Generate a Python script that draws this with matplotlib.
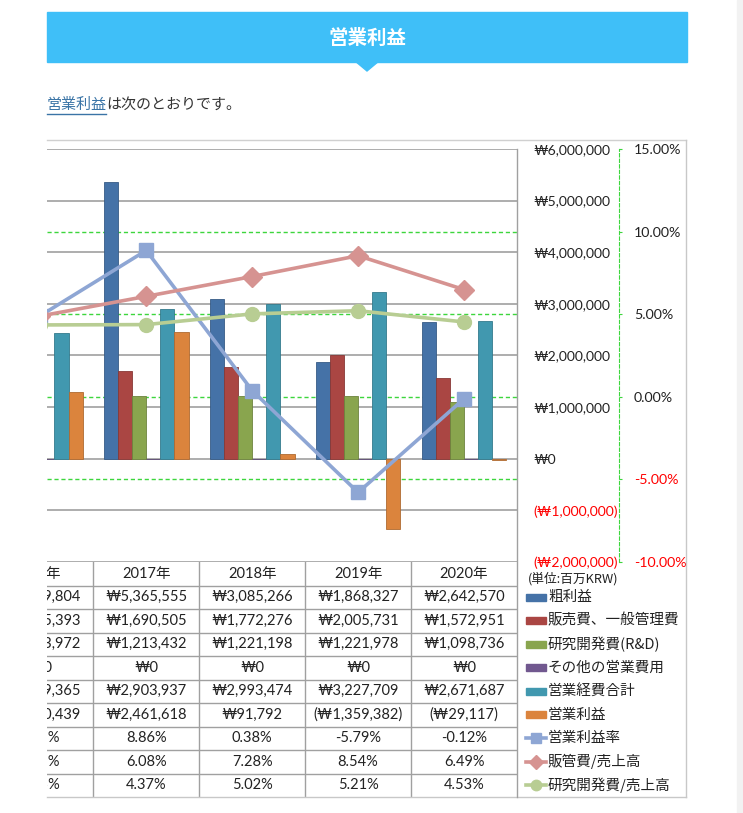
import matplotlib.pyplot as plt
from matplotlib.patches import Rectangle, Polygon
from matplotlib.lines import Line2D
from matplotlib.colors import to_rgb
import numpy as np

plt.rcParams['font.family'] = ['Lato', 'Noto Sans CJK JP', 'DejaVu Sans']

# data (百万KRW)
years = ['2016年', '2017年', '2018年', '2019年', '2020年']
gross_profit = [3719804, 5365555, 3085266, 1868327, 2642570]
sga = [1285393, 1690505, 1772276, 2005731, 1572951]
rnd = [1143972, 1213432, 1221198, 1221978, 1098736]
other_opex = [0, 0, 0, 0, 0]
total_opex = [2429365, 2903937, 2993474, 3227709, 2671687]
op_income = [1290439, 2461618, 91792, -1359382, -29117]
op_margin = [4.91, 8.86, 0.38, -5.79, -0.12]
sga_ratio = [4.89, 6.08, 7.28, 8.54, 6.49]
rnd_ratio = [4.35, 4.37, 5.02, 5.21, 4.53]

bar_names = ['粗利益', '販売費、一般管理費', '研究開発費(R&D)', 'その他の営業費用', '営業経費合計', '営業利益']
line_names = ['営業利益率', '販管費/売上高', '研究開発費/売上高']
won_ticks = [-2000000, -1000000, 0, 1000000, 2000000, 3000000, 4000000, 5000000, 6000000]
pct_ticks = [-10, -5, 0, 5, 10, 15]

bar_colors = ['#4572A7', '#AA4643', '#89A54E', '#71588F', '#4198AF', '#DB843D']
line_colors = ['#8EA6D4', '#D69391', '#B8CD93']
line_markers = ['s', 'D', 'o']
GRID = '#A0A0A0'
GREEN = '#3DD63D'
RED = '#FF0000'


def won(v):
    return '₩{:,.0f}'.format(v) if v >= 0 else '(₩{:,.0f})'.format(-v)


def pct(v):
    return '{:.2f}%'.format(v)


def darker(c, f=0.8):
    return tuple(ch * f for ch in to_rgb(c))


W, H = 743, 813
fig = plt.figure(figsize=(W / 100, H / 100), dpi=100)


def box(x0, y0, x1, y1):
    return [x0 / W, 1 - y1 / H, (x1 - x0) / W, (y1 - y0) / H]


def fx(x):
    return x / W


def fy(y):
    return 1 - y / H


# page header
fig.patches.append(Rectangle((fx(47), fy(62)), 640 / W, 50 / H, transform=fig.transFigure,
                             color='#3FBFF8', zorder=0))
fig.patches.append(Polygon([(fx(355), fy(61)), (fx(379), fy(61)), (fx(367), fy(71))],
                           closed=True, transform=fig.transFigure, color='#3FBFF8', zorder=0))
fig.text(fx(367), fy(38), '営業利益', color='white', fontsize=14, fontweight='bold',
         ha='center', va='center', family=['Noto Sans CJK JP', 'DejaVu Sans'])
fig.patches.append(Rectangle((fx(737), 0), 6 / W, 1, transform=fig.transFigure,
                             color='#F2F2F2', zorder=0))

renderer = fig.canvas.get_renderer()
t1 = fig.text(fx(47), fy(105), '営業利益', color='#3A74A6', fontsize=10.8, va='center',
              family=['Noto Sans CJK JP', 'DejaVu Sans'])
bb = t1.get_window_extent(renderer=renderer)
fig.text((bb.x1 - 1) / W, fy(105), 'は次のとおりです。', color='#333333', fontsize=10.8,
         va='center', family=['Noto Sans CJK JP', 'DejaVu Sans'])
fig.lines.append(Line2D([fx(47), (bb.x1 - 1) / W], [fy(114), fy(114)], transform=fig.transFigure,
                        color='#3A74A6', lw=1))

x = np.arange(len(years))
xlim = (0.0632, 4.5)
plot_box = box(47, 149, 517, 562)

# secondary scale background (green grid + axis)
ax_bg = fig.add_axes(plot_box)
ax_bg.set_xlim(*xlim)
ax_bg.set_ylim(pct_ticks[0], pct_ticks[-1])
ax_bg.set_xticks([])
for s in ['left', 'top', 'bottom']:
    ax_bg.spines[s].set_visible(False)
ax_bg.spines['right'].set_position(('axes', (619 - 47) / 470))
ax_bg.spines['right'].set_linestyle((0, (3, 2)))
ax_bg.spines['right'].set_color(GREEN)
ax_bg.yaxis.tick_right()
ax_bg.set_yticks(pct_ticks, [pct(t) for t in pct_ticks])
ax_bg.tick_params(axis='y', direction='out', length=2.2, color=GREEN, pad=8.5, labelsize=10.2)
for t, lab in zip(pct_ticks, ax_bg.get_yticklabels()):
    lab.set_color(RED if t < 0 else '#222222')
for t in pct_ticks[1:-1]:
    ax_bg.axhline(t, color=GREEN, lw=1, ls=(0, (3, 2)), zorder=0)

# primary axis: bars
ax = fig.add_axes(plot_box)
ax.patch.set_visible(False)
ax.set_xlim(*xlim)
ax.set_ylim(won_ticks[0], won_ticks[-1])
ax.set_xticks([])
for s in ax.spines.values():
    s.set_visible(False)
ax.yaxis.tick_right()
ax.set_yticks(won_ticks, [won(t) for t in won_ticks])
ax.tick_params(axis='y', length=0, pad=11.5, labelsize=10)
for t, lab in zip(won_ticks, ax.get_yticklabels()):
    lab.set_color(RED if t < 0 else '#222222')
ax.yaxis.grid(True, color=GRID, lw=1.2)
ax.set_axisbelow(True)

bar_series = [gross_profit, sga, rnd, other_opex, total_opex, op_income]
bw = 0.8 / len(bar_series)
for i, (vals, c) in enumerate(zip(bar_series, bar_colors)):
    ax.bar(x + (i - 2.5) * bw, vals, width=bw, color=c, edgecolor=darker(c), linewidth=0.6,
           zorder=3)

# secondary axis: lines
ax_ln = fig.add_axes(plot_box)
ax_ln.patch.set_visible(False)
ax_ln.set_xlim(*xlim)
ax_ln.set_ylim(pct_ticks[0], pct_ticks[-1])
ax_ln.axis('off')
line_series = [op_margin, sga_ratio, rnd_ratio]
line_ms = [9.5, 10.5, 10]
for vals, c, m, ms in zip(line_series, line_colors, line_markers, line_ms):
    ax_ln.plot(x, vals, color=c, lw=2.6, marker=m, ms=ms, mec=c, mfc=c)

# data table
ax_tab = fig.add_axes(box(47, 562, 517, 797))
ax_tab.set_xlim(*xlim)
n_rows = 1 + len(bar_series) + len(line_series)
ax_tab.set_ylim(n_rows, 0)
ax_tab.axis('off')
for r in range(1, n_rows):
    ax_tab.axhline(r, color=GRID, lw=1)
for k in range(len(years) - 1):
    ax_tab.axvline(k + 0.5, color=GRID, lw=1)

rows = [[won(v) for v in s] for s in bar_series] + [[pct(v) for v in s] for s in line_series]
for k, yr in enumerate(years):
    ax_tab.text(k - 0.03 if k == 0 else k, 0.5, yr, ha='center', va='center', fontsize=10.5,
                color='#222222', clip_on=True)
for r, row in enumerate(rows, start=1):
    for k, s in enumerate(row):
        ax_tab.text(k, r + 0.5, s, ha='center', va='center', fontsize=10.5, color='#222222',
                    clip_on=True)

# legend column
ax_leg = fig.add_axes(box(518, 562, 686, 797))
ax_leg.set_xlim(518, 686)
ax_leg.set_ylim(n_rows, 0)
ax_leg.axis('off')
ax_leg.text(528, 0.7, '(単位:百万KRW)', ha='left', va='center', fontsize=9.2, color='#222222',
            family=['Noto Sans CJK JP', 'DejaVu Sans'])
for r, (name, c) in enumerate(zip(bar_names, bar_colors), start=1):
    ax_leg.add_patch(Rectangle((526, r + 0.36), 20, 0.28, color=c))
    ax_leg.text(548, r + 0.5, name, ha='left', va='center', fontsize=10.5, color='#222222',
                family=['Noto Sans CJK JP', 'DejaVu Sans'])
for r, (name, c, m) in enumerate(zip(line_names, line_colors, line_markers), start=1 + len(bar_names)):
    ax_leg.plot([526, 546], [r + 0.5, r + 0.5], color=c, lw=2.6)
    ax_leg.plot([536], [r + 0.5], marker=m, ms=7.5, color=c)
    ax_leg.text(548, r + 0.5, name, ha='left', va='center', fontsize=10.5, color='#222222',
                family=['Noto Sans CJK JP', 'DejaVu Sans'])

# chart frame
frame = dict(transform=fig.transFigure, lw=1)
fig.lines.append(Line2D([fx(47), fx(686)], [fy(140), fy(140)], color='#D0D0D0', **frame))
fig.lines.append(Line2D([fx(686), fx(686)], [fy(140), fy(797)], color='#C8C8C8', **frame))
fig.lines.append(Line2D([fx(47), fx(686)], [fy(797), fy(797)], color='#C8C8C8', **frame))
fig.lines.append(Line2D([fx(517), fx(517)], [fy(149), fy(797)], color=GRID, **frame))

fig.savefig('out.png', dpi=100, facecolor='white')
